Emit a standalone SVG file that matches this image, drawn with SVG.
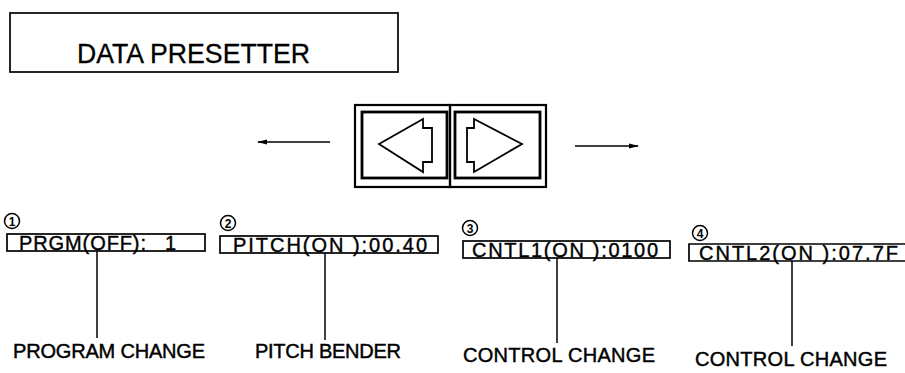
<svg xmlns="http://www.w3.org/2000/svg" width="905" height="373" viewBox="0 0 905 373">
<defs>
<style>
.ln{stroke:#000;stroke-width:1.5;fill:none}
.bx{stroke:#000;stroke-width:1.7;fill:none}
.lbl{font-family:"Liberation Sans",Arial,sans-serif;font-size:20px;fill:#000;stroke:#000;stroke-width:0.45}
.lcd{font-family:"Liberation Sans",Arial,sans-serif;font-size:20px;fill:#000;stroke:#000;stroke-width:0.4}
.num{font-family:"Liberation Sans",Arial,sans-serif;font-size:12px;font-weight:bold;fill:#000;text-anchor:middle}
.cir{stroke:#000;stroke-width:1.5;fill:none}
</style>
<marker id="ah" viewBox="0 0 10 6" refX="9" refY="3" markerWidth="11" markerHeight="6" markerUnits="userSpaceOnUse" orient="auto">
<path d="M0,0.5 L10,3 L0,5.5 Z" fill="#000"/>
</marker>
</defs>
<rect width="905" height="373" fill="#fff"/>

<g id="title">
<rect class="bx" x="10" y="13" width="388" height="59"/>
<text x="77" y="63" font-family="'Liberation Sans',Arial,sans-serif" font-size="27" stroke="#000" stroke-width="0.3" textLength="233" lengthAdjust="spacingAndGlyphs">DATA PRESETTER</text>
</g>

<g id="buttons">
<rect x="355" y="105" width="95" height="82" stroke="#000" stroke-width="2.2" fill="none"/>
<rect x="450" y="105" width="96" height="82" stroke="#000" stroke-width="2.2" fill="none"/>
<rect x="362" y="112" width="85" height="66" stroke="#000" stroke-width="2.8" fill="none"/>
<rect x="455" y="112" width="85" height="66" stroke="#000" stroke-width="2.8" fill="none"/>
<polygon points="379,144 423,119 423,128 432,128 432,162 423,162 423,172" stroke="#000" stroke-width="1.8" fill="none"/>
<polygon points="522,144 474,119 474,128 467,128 467,162 474,162 474,172" stroke="#000" stroke-width="1.8" fill="none"/>
</g>

<g id="item1">
<circle class="cir" cx="12" cy="221" r="7.5"/>
<text class="num" x="12" y="225.5">1</text>
<rect class="bx" x="7" y="234" width="198" height="17"/>
<text class="lcd" x="19" y="249.5" textLength="127" lengthAdjust="spacing">PRGM(OFF):</text>
<text class="lcd" x="165" y="249.5">1</text>
<text class="lbl" x="13" y="358" textLength="192" lengthAdjust="spacing">PROGRAM CHANGE</text>
</g>

<g id="item2">
<circle class="cir" cx="228" cy="223" r="7.5"/>
<text class="num" x="228" y="227.5">2</text>
<rect class="bx" x="220" y="236" width="218" height="17"/>
<text class="lcd" x="233" y="251.5" textLength="194" lengthAdjust="spacing">PITCH(ON ):00.40</text>
<text class="lbl" x="255" y="358" textLength="146" lengthAdjust="spacing">PITCH BENDER</text>
</g>

<g id="item3">
<circle class="cir" cx="470" cy="228" r="7.5"/>
<text class="num" x="470" y="232.5">3</text>
<rect class="bx" x="463" y="241" width="207" height="17"/>
<text class="lcd" x="472" y="256.5" textLength="186" lengthAdjust="spacing">CNTL1(ON ):0100</text>
<text class="lbl" x="463" y="362" textLength="192" lengthAdjust="spacing">CONTROL CHANGE</text>
</g>

<g id="item4">
<circle class="cir" cx="700" cy="233" r="7.5"/>
<text class="num" x="700" y="237.5">4</text>
<path class="bx" d="M905,244 H689 V261 H905"/>
<text class="lcd" x="699" y="259.5" textLength="199" lengthAdjust="spacing">CNTL2(ON ):07.7F</text>
<text class="lbl" x="695" y="366" textLength="192" lengthAdjust="spacing">CONTROL CHANGE</text>
</g>

<g id="connectors">
<line class="ln" x1="330" y1="142" x2="258" y2="142" marker-end="url(#ah)"/>
<line class="ln" x1="575" y1="146" x2="638" y2="146" marker-end="url(#ah)"/>
<line class="ln" x1="97" y1="251" x2="97" y2="338"/>
<line class="ln" x1="325" y1="253" x2="325" y2="340"/>
<line class="ln" x1="557" y1="258" x2="557" y2="343"/>
<line class="ln" x1="792" y1="261" x2="792" y2="346"/>
</g>
</svg>
